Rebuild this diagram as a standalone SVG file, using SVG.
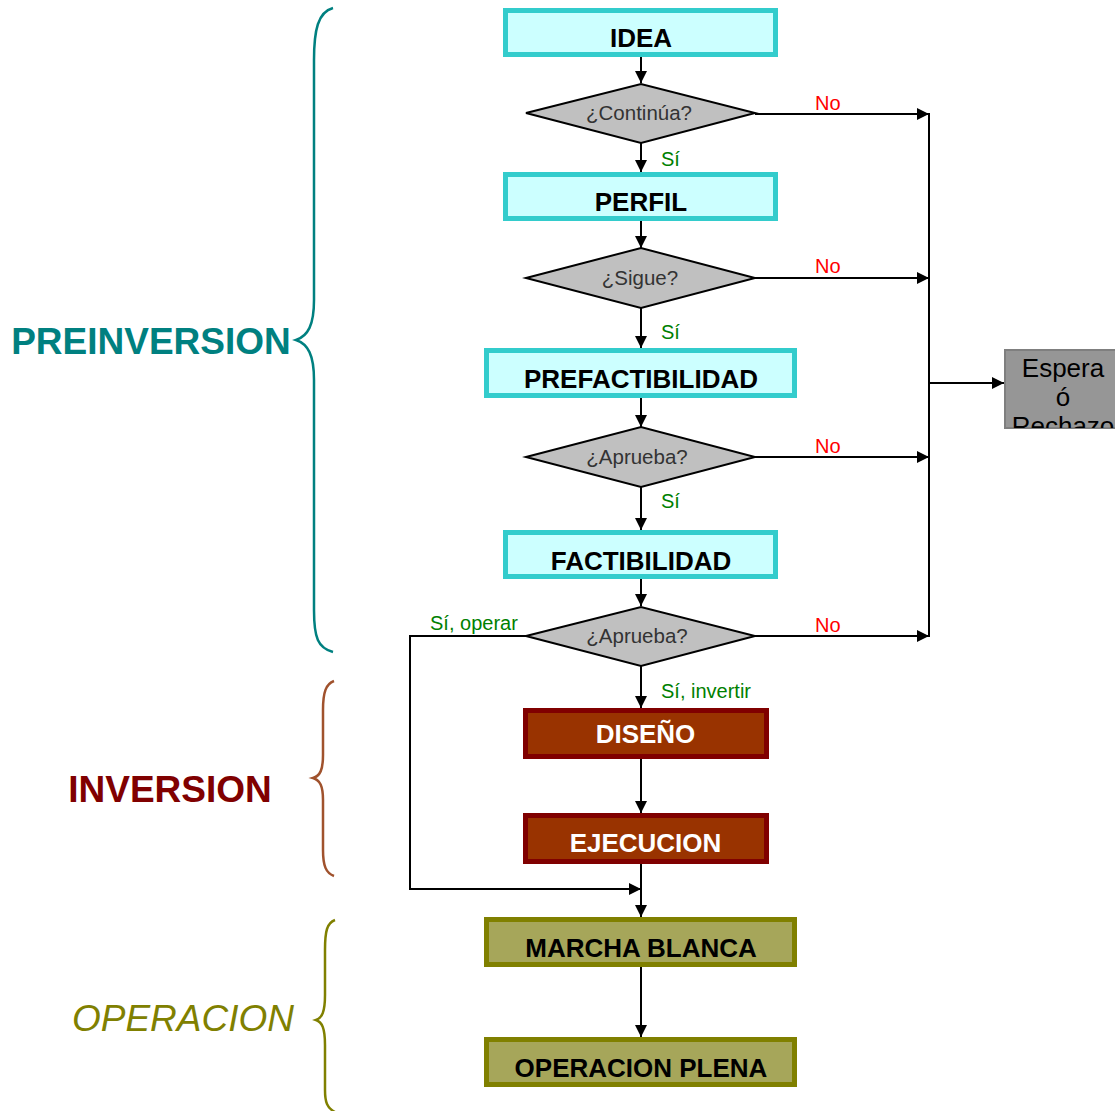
<svg xmlns="http://www.w3.org/2000/svg" width="1115" height="1111" viewBox="0 0 1115 1111">
<style>
.t{font-family:"Liberation Sans",Arial,sans-serif}
.bt{font-family:"Liberation Sans",Arial,sans-serif;font-weight:bold;font-size:26px;text-anchor:middle}
.pre rect{fill:#CCFFFF;stroke:#33CCCC;stroke-width:5}
.inv rect{fill:#993300;stroke:#800000;stroke-width:5}
.op rect{fill:#A6A65A;stroke:#808000;stroke-width:5}
.dia polygon{fill:#C0C0C0;stroke:#000;stroke-width:2}
.dt{font-family:"Liberation Sans",Arial,sans-serif;font-size:20.5px;fill:#333;text-anchor:middle}
.no{font-family:"Liberation Sans",Arial,sans-serif;font-size:20px;fill:#FF0000}
.si{font-family:"Liberation Sans",Arial,sans-serif;font-size:20px;fill:#008000}
#connectors path{fill:none;stroke:#000;stroke-width:2}
.brace{fill:none;stroke-width:2.5}
</style>
<defs>
<marker id="ah" markerWidth="12" markerHeight="12" viewBox="0 0 12 12" refX="12" refY="6" orient="auto" markerUnits="userSpaceOnUse">
<path d="M0,0 L12,6 L0,12 Z" fill="#000"/>
</marker>
<clipPath id="espClip"><rect x="1005" y="350" width="115" height="78"/></clipPath>
</defs>

<!-- side labels and braces -->
<g id="lbl-preinversion">
<text class="t" x="151" y="354" font-size="37" font-weight="bold" fill="#008080" text-anchor="middle">PREINVERSION</text>
<path class="brace" stroke="#008080" d="M333,8 C318,12 314,30 314,60 L314,300 C314,325 308,336 296,340 C308,344 314,355 314,380 L314,610 C314,638 318,648 333,652"/>
</g>
<g id="lbl-inversion">
<text class="t" x="170" y="802" font-size="37" font-weight="bold" fill="#800000" text-anchor="middle">INVERSION</text>
<path class="brace" stroke="#A0522D" d="M334,681 C326,684 323,692 323,710 L323,755 C323,770 320,776 313,778 C320,780 323,786 323,800 L323,850 C323,866 326,873 334,876"/>
</g>
<g id="lbl-operacion">
<text class="t" x="183" y="1031" font-size="37" font-style="italic" fill="#808000" text-anchor="middle">OPERACION</text>
<path class="brace" stroke="#808000" d="M335,920 C327,923 325,931 325,950 L325,995 C325,1012 322,1018 316,1020 C322,1022 325,1028 325,1045 L325,1090 C325,1102 327,1108 335,1112"/>
</g>

<!-- connectors -->
<g id="connectors">
<path d="M641,57 V83" marker-end="url(#ah)"/>
<path d="M641,143 V172" marker-end="url(#ah)"/>
<path d="M641,220 V248" marker-end="url(#ah)"/>
<path d="M641,308 V348" marker-end="url(#ah)"/>
<path d="M641,398 V427" marker-end="url(#ah)"/>
<path d="M641,487 V530" marker-end="url(#ah)"/>
<path d="M641,579 V606" marker-end="url(#ah)"/>
<path d="M641,666 V708" marker-end="url(#ah)"/>
<path d="M641,758 V813" marker-end="url(#ah)"/>
<path d="M641,863 V917" marker-end="url(#ah)"/>
<path d="M641,967 V1037" marker-end="url(#ah)"/>
<path d="M526,636 H410 V889 H641" marker-end="url(#ah)"/>
<path d="M755,114 H929" marker-end="url(#ah)"/>
<path d="M755,278 H929" marker-end="url(#ah)"/>
<path d="M755,457 H929" marker-end="url(#ah)"/>
<path d="M755,636 H929" marker-end="url(#ah)"/>
<path d="M929,113 V637"/>
<path d="M929,383 H1004" marker-end="url(#ah)"/>
<text class="no" x="815" y="110">No</text>
<text class="no" x="815" y="273">No</text>
<text class="no" x="815" y="453">No</text>
<text class="no" x="815" y="632">No</text>
<text class="si" x="661" y="166">Sí</text>
<text class="si" x="661" y="339">Sí</text>
<text class="si" x="661" y="508">Sí</text>
<text class="si" x="661" y="698">Sí, invertir</text>
<text class="si" x="430" y="630">Sí, operar</text>
</g>

<!-- nodes -->
<g id="idea" class="pre"><rect x="505.5" y="10.5" width="270" height="44"/><text class="bt" x="641" y="47">IDEA</text></g>
<g id="d-continua" class="dia"><polygon points="526,113 641,84 755,113 641,143"/><text class="dt" x="639" y="120">¿Continúa?</text></g>
<g id="perfil" class="pre"><rect x="505.5" y="174.5" width="270" height="44"/><text class="bt" x="641" y="211">PERFIL</text></g>
<g id="d-sigue" class="dia"><polygon points="526,278 641,248 755,278 641,308"/><text class="dt" x="640" y="285">¿Sigue?</text></g>
<g id="prefactibilidad" class="pre"><rect x="486.5" y="350.5" width="308" height="45"/><text class="bt" x="641" y="388">PREFACTIBILIDAD</text></g>
<g id="d-aprueba1" class="dia"><polygon points="526,457 641,427 755,457 641,487"/><text class="dt" x="637" y="464">¿Aprueba?</text></g>
<g id="factibilidad" class="pre"><rect x="505.5" y="532.5" width="270" height="44"/><text class="bt" x="641" y="570">FACTIBILIDAD</text></g>
<g id="d-aprueba2" class="dia"><polygon points="526,636 641,607 755,636 641,666"/><text class="dt" x="637" y="643">¿Aprueba?</text></g>
<g id="diseno" class="inv"><rect x="525.5" y="710.5" width="241" height="46"/><text class="bt" x="645.5" y="743" fill="#fff">DISEÑO</text></g>
<g id="ejecucion" class="inv"><rect x="525.5" y="815.5" width="241" height="46"/><text class="bt" x="645.5" y="852" fill="#fff">EJECUCION</text></g>
<g id="marcha" class="op"><rect x="486.5" y="919.5" width="308" height="45"/><text class="bt" x="641" y="957">MARCHA BLANCA</text></g>
<g id="operacion-plena" class="op"><rect x="486.5" y="1039.5" width="308" height="45"/><text class="bt" x="641" y="1077">OPERACION PLENA</text></g>
<g id="espera">
<rect x="1005" y="350" width="120" height="78" fill="#969696" stroke="#7F7F7F" stroke-width="2"/>
<g clip-path="url(#espClip)">
<text class="t" x="1063" y="377" font-size="26" text-anchor="middle" fill="#000">Espera</text>
<text class="t" x="1063" y="406" font-size="26" text-anchor="middle" fill="#000">ó</text>
<text class="t" x="1063" y="435" font-size="26" text-anchor="middle" fill="#000">Rechazo</text>
</g>
</g>
</svg>
